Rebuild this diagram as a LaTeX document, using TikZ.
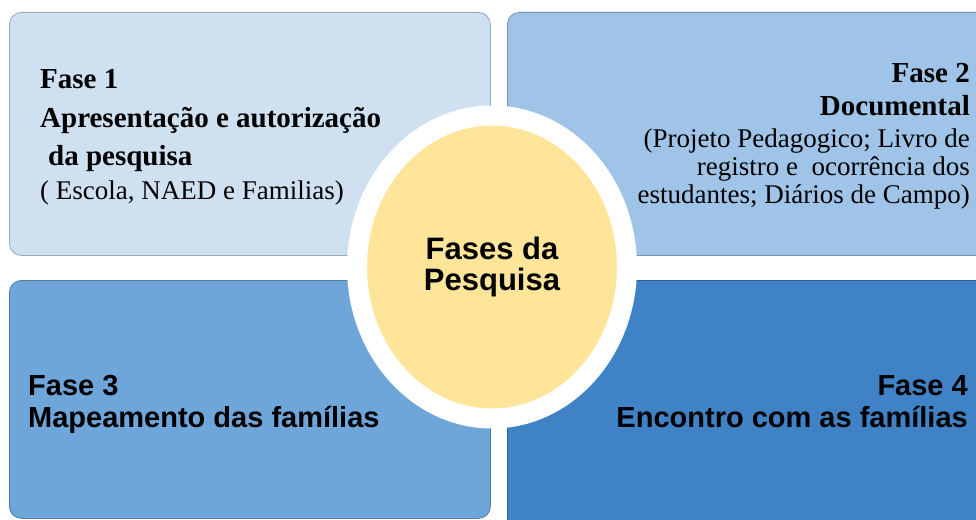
\documentclass[tikz,border=0pt]{standalone}
\usepackage{fontspec}
\setmainfont{Liberation Serif}
\setsansfont{Liberation Sans}
\usetikzlibrary{shapes.geometric,positioning}
\definecolor{faseA}{HTML}{CFE0F1}
\definecolor{faseB}{HTML}{A0C4E7}
\definecolor{faseC}{HTML}{6FA6D9}
\definecolor{faseD}{HTML}{3F83C6}
\definecolor{centro}{HTML}{FEE59A}
\tikzset{
  fasebox/.style={draw=#1!75!black, fill=#1, line width=0.8pt, rounded corners=12pt,
    anchor=north west, inner sep=0pt},
  serifb/.style={font=\fontsize{29}{34}\selectfont\bfseries, inner sep=0pt},
  serifr/.style={font=\fontsize{27}{32}\selectfont, inner sep=0pt},
  sansb/.style={font=\fontsize{29}{34}\selectfont\sffamily\bfseries, inner sep=0pt}
}
\begin{document}
\begin{tikzpicture}[x=1pt,y=-1pt]
\clip (0,0) rectangle (976,519);
\fill[white] (0,0) rectangle (976,519);
% the four boxes
\node[fasebox=faseA, minimum width=481pt, minimum height=243pt] (f1) at (9,12) {};
\node[fasebox=faseB, minimum width=490pt, minimum height=243pt] (f2) at (507,12) {};
\node[fasebox=faseC, minimum width=481pt, minimum height=238pt] (f3) at (9,280) {};
\node[fasebox=faseD, minimum width=490pt, minimum height=260pt] (f4) at (507,280) {};
% centre
\node[ellipse, fill=centro, draw=white, line width=20pt, minimum width=270pt, minimum height=303pt,
  align=center, inner sep=0pt, font=\fontsize{31}{31}\selectfont\sffamily\bfseries] (fases) at (492,267)
  {Fases da\\[0pt]Pesquisa};
% Fase 1
\node[serifb, anchor=base west] (f1a) at (40,88) {Fase 1};
\node[serifb, anchor=base west] (f1b) at (40,127) {Apresentação e autorização};
\node[serifb, anchor=base west] (f1c) at (48,165) {da pesquisa};
\node[serifr, anchor=base west] (f1d) at (40,199) {( Escola, NAED e Familias)};
% Fase 2
\node[serifb, anchor=base east] (f2a) at (970,82) {Fase 2};
\node[serifb, anchor=base east] (f2b) at (970,115) {Documental};
\node[serifr, anchor=base east] (f2c) at (970,147) {(Projeto Pedagogico; Livro de};
\node[serifr, anchor=base east] (f2d) at (970,175) {registro e \ ocorrência dos};
\node[serifr, anchor=base east] (f2e) at (970,203) {estudantes; Diários de Campo)};
% Fase 3
\node[sansb, anchor=base west] (f3a) at (28,395) {Fase 3};
\node[sansb, anchor=base west] (f3b) at (28,427) {Mapeamento das famílias};
% Fase 4
\node[sansb, anchor=base east] (f4a) at (968,395) {Fase 4};
\node[sansb, anchor=base east] (f4b) at (968,427) {Encontro com as famílias};
\end{tikzpicture}
\end{document}
